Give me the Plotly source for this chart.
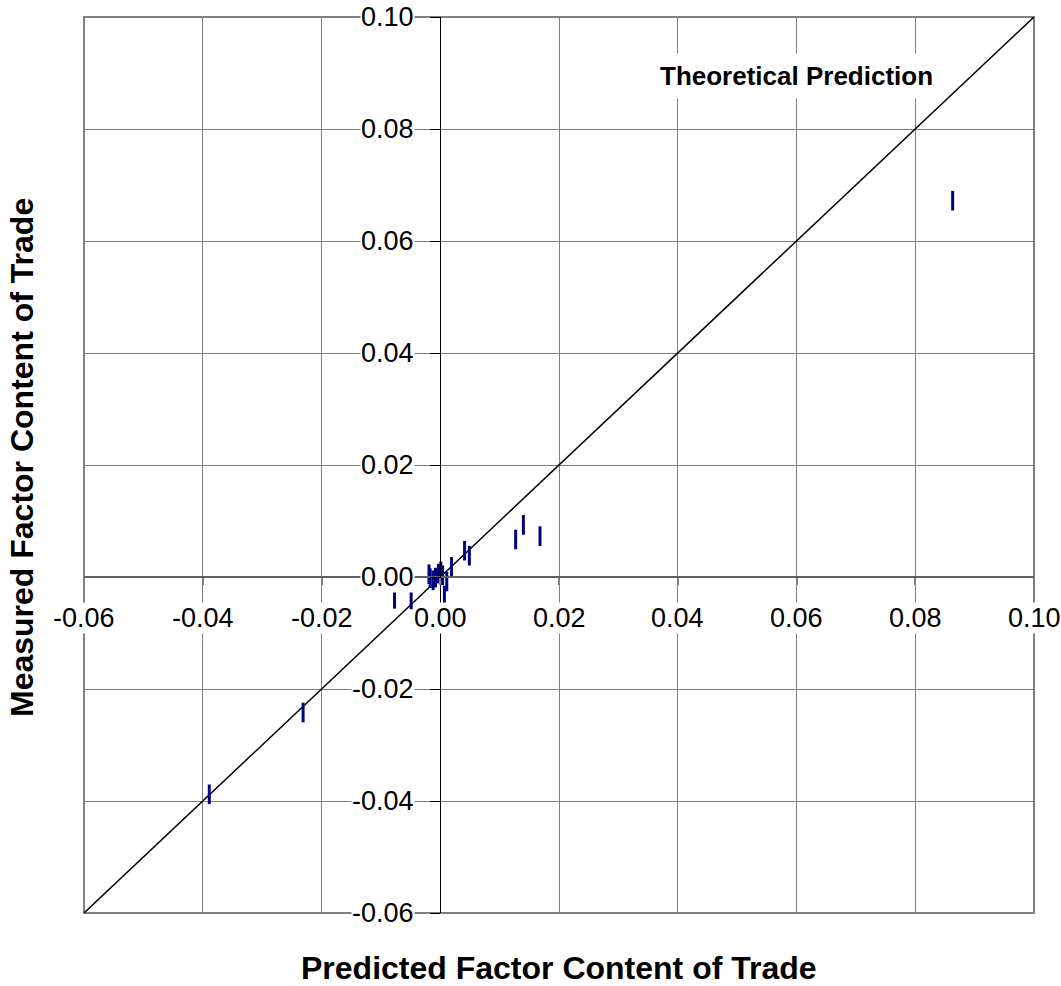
import plotly.graph_objects as go

# ---- data ----
predicted = [0.0863, -0.0389, -0.0231, 0.0127, 0.0140, 0.0168, -0.0077, -0.0049,
             -0.0019, -0.0017, -0.0012, -0.0008, -0.0003, 0.0001, 0.0004, 0.0007,
             0.0011, 0.0019, 0.0041, 0.0049]
measured = [0.0672, -0.0388, -0.0242, 0.0067, 0.0093, 0.0073, -0.0039, -0.0040,
            0.0005, -0.0002, -0.0006, -0.0001, 0.0006, 0.0010, 0.0003, -0.0033,
            -0.0008, 0.0018, 0.0047, 0.0038]
theory_x = [-0.06, 0.10]
theory_y = [-0.06, 0.10]
x_ticks = [-0.06, -0.04, -0.02, 0.00, 0.02, 0.04, 0.06, 0.08, 0.10]
x_tick_labels = ["-0.06", "-0.04", "-0.02", "0.00", "0.02", "0.04", "0.06", "0.08", "0.10"]
y_ticks = [-0.06, -0.04, -0.02, 0.00, 0.02, 0.04, 0.06, 0.08, 0.10]
y_tick_labels = ["-0.06", "-0.04", "-0.02", "0.00", "0.02", "0.04", "0.06", "0.08", "0.10"]
x_title = "Predicted Factor Content of Trade"
y_title = "Measured Factor Content of Trade"
line_label = "Theoretical Prediction"

FONT = "Liberation Sans, Arial, sans-serif"
GRID = "#808080"

fig = go.Figure()
fig.add_trace(go.Scatter(x=theory_x, y=theory_y, mode="lines",
                         line=dict(color="black", width=1.5),
                         hoverinfo="skip", showlegend=False))
fig.add_trace(go.Scatter(x=predicted, y=measured, mode="markers",
                         marker=dict(symbol="line-ns", size=14,
                                     line=dict(width=3, color="#000080")),
                         cliponaxis=False, showlegend=False))

annotations = []
for v, t in zip(x_ticks, x_tick_labels):
    annotations.append(dict(x=v, y=0, xref="x", yref="y", text=t, showarrow=False,
                            xanchor="center", yanchor="middle", yshift=-41,
                            bgcolor="white", borderpad=0,
                            font=dict(family=FONT, size=27, color="black")))
for v, t in zip(y_ticks, y_tick_labels):
    annotations.append(dict(x=0, y=v, xref="x", yref="y", text=t, showarrow=False,
                            xanchor="right", yanchor="middle", xshift=-25,
                            bgcolor="white", borderpad=0,
                            font=dict(family=FONT, size=27, color="black")))
annotations.append(dict(x=0.06, y=0.0895, xref="x", yref="y", text="<b>%s</b>" % line_label,
                        showarrow=False, xanchor="center", yanchor="middle",
                        bgcolor="white", borderpad=7,
                        font=dict(family=FONT, size=26, color="black")))
annotations.append(dict(x=0.5, y=0, xref="paper", yref="paper", text="<b>%s</b>" % x_title,
                        showarrow=False, xanchor="center", yanchor="middle", yshift=-55,
                        font=dict(family=FONT, size=32, color="black")))
annotations.append(dict(x=0, y=0.5, xref="paper", yref="paper", text="<b>%s</b>" % y_title,
                        showarrow=False, xanchor="center", yanchor="middle", xshift=-62,
                        yshift=7, textangle=-90,
                        font=dict(family=FONT, size=32, color="black")))

fig.update_layout(
    width=1061, height=986,
    margin=dict(l=84, r=27, t=17, b=73),
    paper_bgcolor="white", plot_bgcolor="white",
    showlegend=False,
    annotations=annotations,
    xaxis=dict(range=[-0.06, 0.10], tickvals=x_ticks, showticklabels=False,
               showgrid=True, gridcolor=GRID, gridwidth=1, zeroline=False,
               anchor="free", position=0.375, showline=True, linecolor="#606060",
               linewidth=1.5, ticks="outside", ticklen=7, tickcolor=GRID, tickwidth=1.5),
    yaxis=dict(range=[-0.06, 0.10], tickvals=y_ticks, showticklabels=False,
               showgrid=True, gridcolor=GRID, gridwidth=1, zeroline=False,
               anchor="free", position=0.375, showline=True, linecolor="black",
               linewidth=1, ticks="outside", ticklen=10, tickcolor="black", tickwidth=1),
    shapes=[dict(type="rect", xref="paper", yref="paper", x0=0, x1=1, y0=0, y1=1,
                 line=dict(color=GRID, width=2), layer="below")],
)

fig.write_html("out.html",
               config={"displayModeBar": False},
               post_script="document.body.style.margin='0px';"
                           "document.body.style.overflow='hidden';")
